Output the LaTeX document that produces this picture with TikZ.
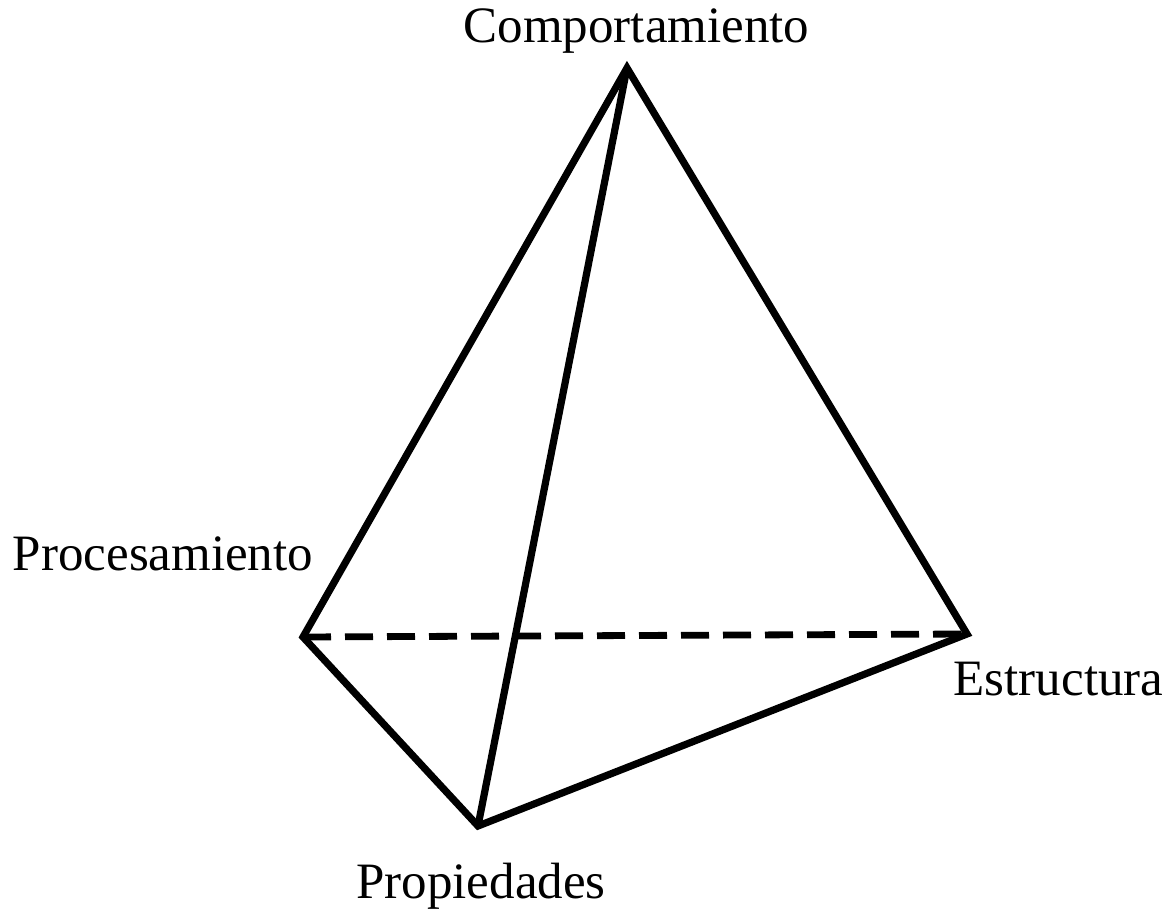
\documentclass[tikz,border=0pt]{standalone}
\usepackage{fontspec}
\setmainfont{Liberation Serif}
\usetikzlibrary{positioning}

\begin{document}
\begin{tikzpicture}[x=0.5pt,y=-0.5pt,
      every node/.style={font=\fontsize{25.5}{30}\selectfont,inner sep=0pt,anchor=base},
      edge/.style={line width=3.6pt,line join=miter},
      hidden/.style={line width=3.4pt,dash pattern=on 14pt off 7pt}]
    \useasboundingbox (0,0) rectangle (1173,909);
    % vertices
    \coordinate (top) at (627,68);
    \coordinate (lft) at (303,637);
    \coordinate (rgt) at (967,634);
    \coordinate (bot) at (478,826);
    % labels
    \node (comp) at (636.5,43) {Comportamiento};
    \node (proc) at (163,570) {Procesamiento};
    \node (estr) at (1058.5,695) {Estructura};
    \node (prop) at (481,898) {Propiedades};
    % edges
    \draw[hidden] (lft) -- (rgt);
    \draw[edge] (lft) -- (top) -- (rgt) -- (bot) -- cycle;
    \draw[edge] (top) -- (bot);
  \end{tikzpicture}
\end{document}
